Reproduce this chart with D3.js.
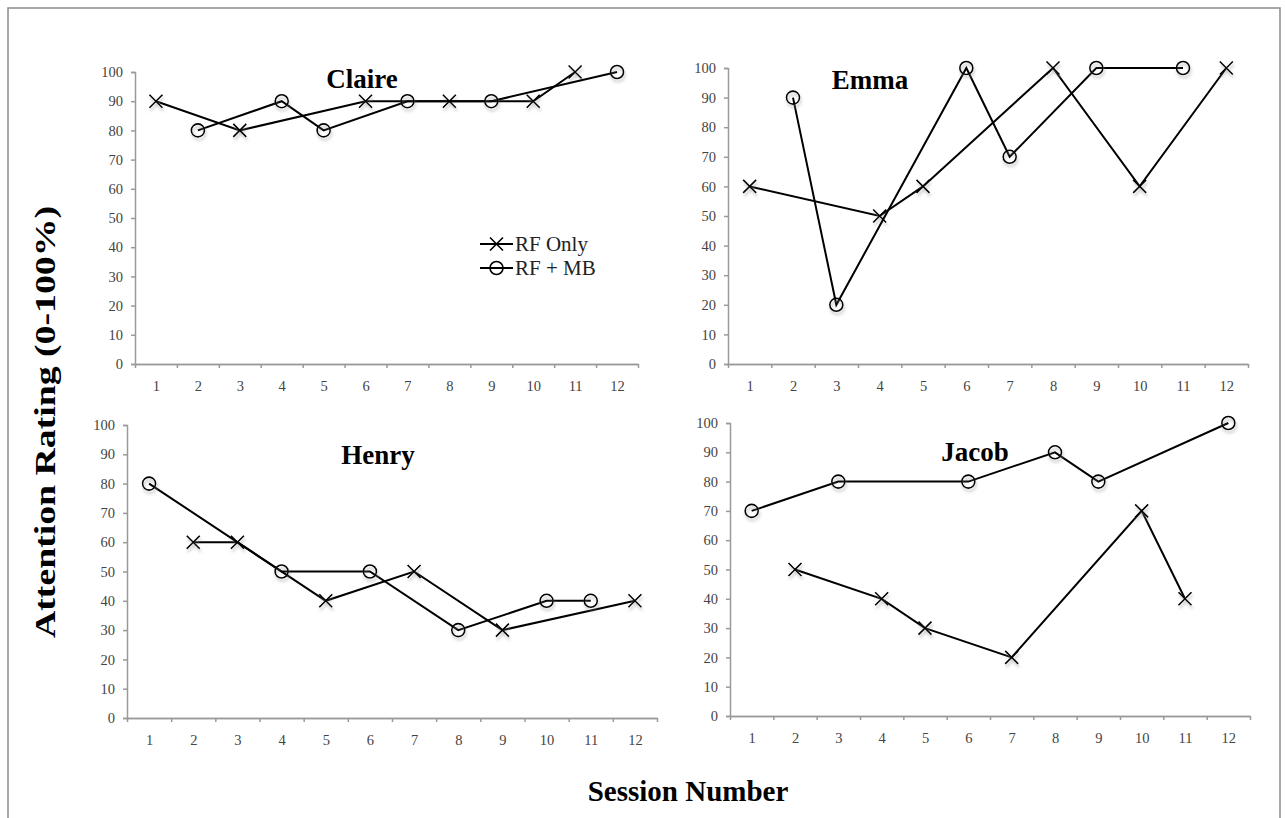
<!DOCTYPE html>
<html>
<head>
<meta charset="utf-8">
<script src="https://cdn.jsdelivr.net/npm/d3@7"></script>
<style>
  body { margin: 0; background: #fff; }
  svg { display: block; }
  .tick text { font-family: "Times New Roman", "Liberation Serif", serif; fill: #444; }
</style>
</head>
<body>
<div id="chart"></div>
<script>
// session numbers and ratings (null = session not in that condition)
var sessions = [1, 2, 3, 4, 5, 6, 7, 8, 9, 10, 11, 12];
var yTicks = [0, 10, 20, 30, 40, 50, 60, 70, 80, 90, 100];
var seriesNames = ['RF Only', 'RF + MB'];

var claireRF = [90, null, 80, null, null, 90, null, 90, null, 90, 100, null];
var claireMB = [null, 80, null, 90, 80, null, 90, null, 90, null, null, 100];
var emmaRF = [60, null, null, 50, 60, null, null, 100, null, 60, null, 100];
var emmaMB = [null, 90, 20, null, null, 100, 70, null, 100, null, 100, null];
var henryRF = [null, 60, 60, null, 40, null, 50, null, 30, null, null, 40];
var henryMB = [80, null, null, 50, null, 50, null, 30, null, 40, 40, null];
var jacobRF = [null, 50, null, 40, 30, null, 20, null, null, 70, 40, null];
var jacobMB = [70, null, 80, null, null, 80, null, 90, 80, null, null, 100];

var width = 1285;
var height = 818;
var serif = '"Times New Roman", "Liberation Serif", serif';

// panel placement (pixels)
var panels = [
  {name: 'Claire', rf: claireRF, mb: claireMB, x0: 135, x1: 638, yTop: 72, yBot: 364, tx: 362, ty: 88, legend: true},
  {name: 'Emma', rf: emmaRF, mb: emmaMB, x0: 728, x1: 1248, yTop: 68, yBot: 364, tx: 870, ty: 89},
  {name: 'Henry', rf: henryRF, mb: henryMB, x0: 127, x1: 657, yTop: 425, yBot: 718, tx: 378, ty: 464},
  {name: 'Jacob', rf: jacobRF, mb: jacobMB, x0: 730, x1: 1250, yTop: 423, yBot: 716, tx: 975, ty: 461}
];

var svg = d3.select('#chart')
            .append('svg')
            .attr('width', width)
            .attr('height', height);

// soft shadow under the markers, like the spreadsheet original
var filter = svg.append('defs').append('filter')
                .attr('id', 'shadow')
                .attr('x', '-50%').attr('y', '-50%')
                .attr('width', '200%').attr('height', '200%');
filter.append('feDropShadow')
      .attr('dx', 1).attr('dy', 3)
      .attr('stdDeviation', 1.5)
      .attr('flood-color', '#888')
      .attr('flood-opacity', 0.55);

// outer frame
svg.append('rect')
   .attr('x', 8).attr('y', 8)
   .attr('width', 1272).attr('height', 840)
   .attr('fill', 'none')
   .attr('stroke', '#8a8a8a')
   .attr('stroke-width', 1.5);

function drawX(g, cx, cy, s) {
  g.append('path')
   .attr('d', 'M' + (cx - s) + ',' + (cy - s) + 'L' + (cx + s) + ',' + (cy + s) +
              'M' + (cx - s) + ',' + (cy + s) + 'L' + (cx + s) + ',' + (cy - s))
   .attr('stroke', '#000')
   .attr('stroke-width', 1.6)
   .attr('fill', 'none');
}

function drawO(g, cx, cy, r) {
  g.append('circle')
   .attr('cx', cx).attr('cy', cy).attr('r', r)
   .attr('fill', 'none')
   .attr('stroke', '#000')
   .attr('stroke-width', 1.6);
}

panels.forEach(function (p) {
  var g = svg.append('g');

  var x = d3.scaleLinear().domain([0.5, 12.5]).range([p.x0, p.x1]);
  var y = d3.scaleLinear().domain([0, 100]).range([p.yBot, p.yTop]);

  // y axis
  var yAxis = g.append('g')
               .attr('transform', 'translate(' + p.x0 + ',0)')
               .call(d3.axisLeft(y).tickValues(yTicks).tickSizeInner(4).tickSizeOuter(4).tickPadding(8));
  yAxis.selectAll('text').style('font-size', '14.5px');

  // x axis: labels in the middle of each session slot
  var xAxis = g.append('g')
               .attr('transform', 'translate(0,' + p.yBot + ')')
               .call(d3.axisBottom(x).tickValues(sessions).tickSize(0).tickPadding(17));
  xAxis.selectAll('text').style('font-size', '14.5px');
  // tick marks at slot boundaries
  g.append('g')
   .attr('transform', 'translate(0,' + p.yBot + ')')
   .call(d3.axisBottom(x).tickValues(d3.range(0.5, 13, 1)).tickFormat('').tickSizeInner(4).tickSizeOuter(0));

  g.selectAll('.domain, .tick line')
   .attr('stroke', '#9a9a9a')
   .attr('stroke-width', 1.5);

  // title
  g.append('text')
   .attr('x', p.tx).attr('y', p.ty)
   .attr('text-anchor', 'middle')
   .attr('font-family', serif)
   .attr('font-weight', 'bold')
   .attr('font-size', 27)
   .text(p.name);

  var line = d3.line()
               .x(function (d) { return x(d.s); })
               .y(function (d) { return y(d.v); });

  [p.rf, p.mb].forEach(function (vals, k) {
    var pts = sessions.map(function (s, i) { return {s: s, v: vals[i]}; })
                      .filter(function (d) { return d.v !== null; });
    g.append('path')
     .datum(pts)
     .attr('d', line)
     .attr('fill', 'none')
     .attr('stroke', '#000')
     .attr('stroke-width', 2);
    var mk = g.append('g').attr('filter', 'url(#shadow)');
    pts.forEach(function (d) {
      if (k === 0) drawX(mk, x(d.s), y(d.v), 6.5);
      else drawO(mk, x(d.s), y(d.v), 6.5);
    });
  });

  if (p.legend) {
    var lg = g.append('g');
    seriesNames.forEach(function (name, k) {
      var ly = 244 + k * 24;
      lg.append('line')
        .attr('x1', 480).attr('x2', 513)
        .attr('y1', ly).attr('y2', ly)
        .attr('stroke', '#000').attr('stroke-width', 2);
      if (k === 0) drawX(lg, 496.5, ly, 6.5);
      else drawO(lg, 496.5, ly, 6.5);
      lg.append('text')
        .attr('x', 515).attr('y', ly + 7)
        .attr('font-family', serif)
        .attr('font-size', 21)
        .attr('fill', '#222')
        .text(name);
    });
  }
});

// shared axis titles
svg.append('text')
   .attr('text-anchor', 'middle')
   .attr('transform', 'translate(55,422)rotate(-90)')
   .attr('font-family', serif)
   .attr('font-weight', 'bold')
   .attr('font-size', 29)
   .attr('textLength', 432)
   .attr('lengthAdjust', 'spacingAndGlyphs')
   .text('Attention Rating (0-100%)');

svg.append('text')
   .attr('text-anchor', 'middle')
   .attr('x', 688).attr('y', 801)
   .attr('font-family', serif)
   .attr('font-weight', 'bold')
   .attr('font-size', 29)
   .text('Session Number');
</script>
</body>
</html>
